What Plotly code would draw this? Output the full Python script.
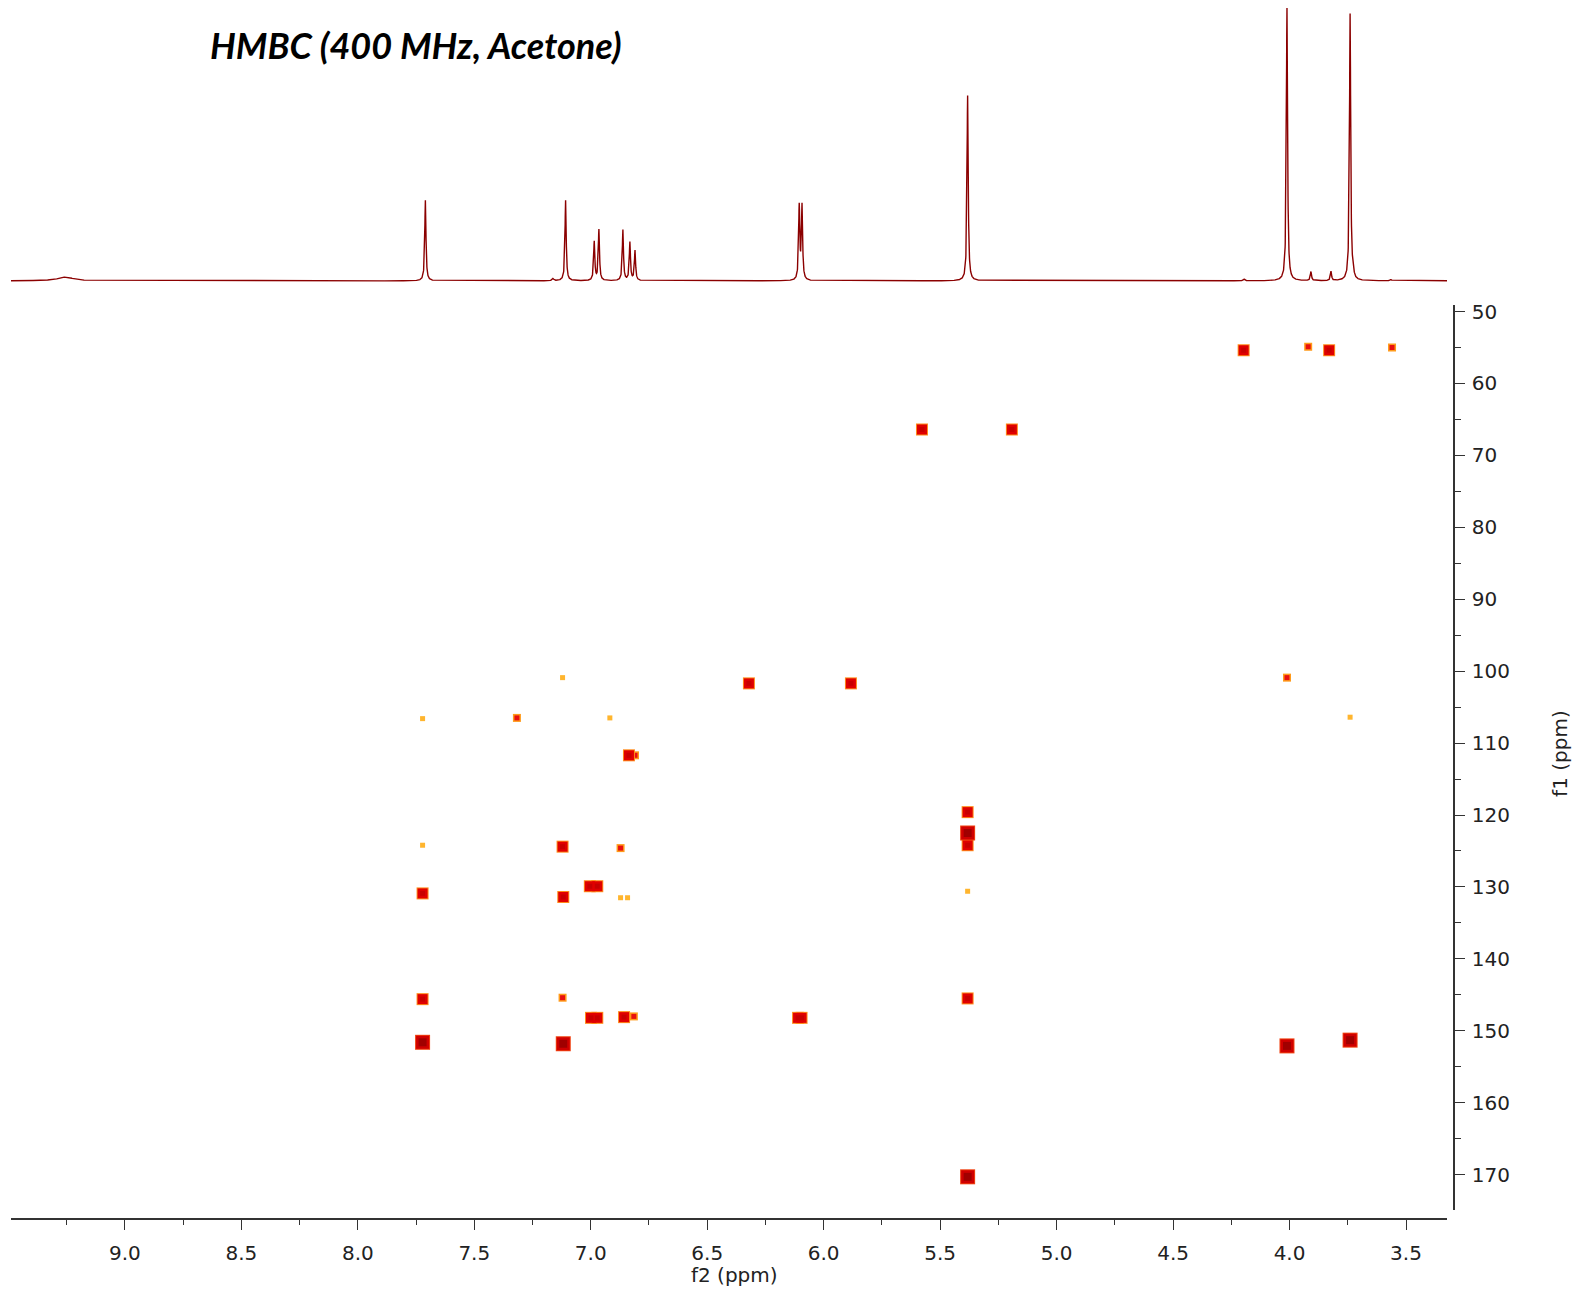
import numpy as np
import plotly.graph_objects as go

# ---------------- 1D proton projection (peak list) ----------------
h1_shift = [9.255, 7.710, 7.162, 7.108, 6.985, 6.965, 6.862, 6.832, 6.810, 6.105, 6.093,
            5.382, 4.195, 4.011, 3.908, 3.822, 3.740, 3.727, 3.565]
h1_height = [1.4, 29.5, 0.8, 29.5, 14.2, 18.6, 18.6, 14.0, 11.0, 27.0, 27.0,
             67.9, 0.6, 100.0, 3.3, 3.4, 97.8, 2.5, 0.5]
h1_hwhm = [0.04, 0.003, 0.004, 0.003, 0.003, 0.003, 0.003, 0.003, 0.003, 0.003, 0.003,
           0.003, 0.004, 0.003, 0.003, 0.003, 0.003, 0.003, 0.004]

# ---------------- HMBC cross peaks: (1H shift, 13C shift, intensity level 1..4) ----------------
hmbc_h = [4.197, 3.920, 3.830, 3.560,
          5.578, 5.192,
          7.121, 6.321, 5.883, 4.011,
          7.722, 7.317, 6.918, 3.740,
          6.836, 6.810,
          5.382, 5.382, 5.382,
          7.722, 7.121, 6.872,
          7.722, 7.118, 7.004, 6.972, 6.872, 6.842, 5.382,
          7.722, 7.121, 5.382,
          6.999, 6.972, 6.857, 6.815, 6.110, 6.095,
          7.722, 7.118, 4.011, 3.740,
          5.382]
hmbc_c = [55.4, 54.9, 55.4, 55.0,
          66.4, 66.4,
          100.9, 101.7, 101.7, 100.9,
          106.6, 106.5, 106.5, 106.4,
          111.7, 111.7,
          119.6, 122.5, 124.2,
          124.2, 124.4, 124.6,
          130.9, 131.4, 129.9, 129.9, 131.5, 131.5, 130.6,
          145.6, 145.4, 145.5,
          148.2, 148.2, 148.1, 148.0, 148.2, 148.2,
          151.6, 151.8, 152.1, 151.3,
          170.3]
hmbc_level = [3, 2, 3, 2,
              3, 3,
              1, 3, 3, 2,
              1, 2, 1, 1,
              3, 2,
              3, 4, 3,
              1, 3, 2,
              3, 3, 3, 3, 1, 1, 1,
              3, 2, 3,
              3, 3, 3, 2, 3, 3,
              4, 4, 4, 4,
              4]

# ---------------- build projection trace ----------------
xgrid = np.arange(3.30, 9.50, 0.0005)
spec = np.zeros_like(xgrid)
for x0, h, g in zip(h1_shift, h1_height, h1_hwhm):
    spec += h * g**2 / ((xgrid - x0)**2 + g**2)

# ---------------- geometry helpers (pixels -> paper) ----------------
W, H = 1574, 1289
ML, MR, MT, MB = 11, 120, 0, 70
PW, PH = W - ML - MR, H - MT - MB
def px(p):
    return (p - ML) / PW
def py(p):
    return (H - MB - p) / PH

fig = go.Figure()

fig.add_trace(go.Scatter(x=xgrid, y=spec, mode="lines",
                         line=dict(color="#8b0000", width=1.4),
                         xaxis="x2", yaxis="y2", hoverinfo="skip", showlegend=False))

# cross peaks drawn in layers: halo, body, core
h_arr = np.array(hmbc_h)
c_arr = np.array(hmbc_c)
lv = np.array(hmbc_level)

layers = [
    # (levels, colour, size)
    ((1,), "#ffb52e", 5),
    ((2,), "#ff9a1a", 8),
    ((2,), "#e81010", 5),
    ((3,), "#ff8a1a", 12),
    ((3,), "#e00000", 10),
    ((3,), "#c80000", 5),
    ((4,), "#f04010", 15),
    ((4,), "#d00000", 13),
    ((4,), "#a00000", 8),
]
for levels, col, size in layers:
    m = np.isin(lv, levels)
    fig.add_trace(go.Scatter(x=h_arr[m], y=c_arr[m], mode="markers",
                             marker=dict(symbol="square", size=size, color=col, line=dict(width=0)),
                             xaxis="x", yaxis="y", hoverinfo="skip", showlegend=False))

tickfont = dict(family="Tahoma, DejaVu Sans, sans-serif", size=20, color="#222222")
axcol = "#333333"
xrange_ppm = [9.489, 3.324]

fig.update_layout(
    width=W, height=H,
    margin=dict(l=ML, r=MR, t=MT, b=MB),
    paper_bgcolor="white", plot_bgcolor="white",
    xaxis=dict(domain=[0, (1447 - ML) / PW], range=xrange_ppm, anchor="free", position=0,
               showline=True, linecolor=axcol, linewidth=1.5, mirror=False,
               ticks="outside", ticklen=10, tickwidth=1.3, tickcolor=axcol,
               tick0=0, dtick=0.5, tickformat=".1f", tickfont=tickfont, ticklabelstandoff=6,
               minor=dict(dtick=0.25, ticks="outside", ticklen=5, tickwidth=1.3, tickcolor=axcol),
               showgrid=False, zeroline=False),
    yaxis=dict(domain=[py(1210), py(301)], range=[174.92, 49.06], anchor="free", position=1,
               side="right", showline=True, linecolor=axcol, linewidth=1.5,
               ticks="outside", ticklen=10, tickwidth=1.3, tickcolor=axcol,
               tick0=0, dtick=10, tickfont=tickfont, ticklabelstandoff=3,
               minor=dict(dtick=5, ticks="outside", ticklen=6, tickwidth=1.3, tickcolor=axcol),
               showgrid=False, zeroline=False),
    xaxis2=dict(domain=[0, (1447 - ML) / PW], range=xrange_ppm, anchor="y2",
                visible=False, showgrid=False, zeroline=False),
    yaxis2=dict(domain=[py(285), 1.0], range=[-2.92, 101.09], anchor="x2",
                visible=False, showgrid=False, zeroline=False),
    annotations=[
        dict(text="<b><i>HMBC (400 MHz, Acetone)</i></b>", xref="paper", yref="paper",
             x=px(208), y=py(40), xanchor="left", yanchor="middle", showarrow=False,
             font=dict(family="Lato, Open Sans, sans-serif", size=36, color="black")),
        dict(text="f2 (ppm)", xref="paper", yref="paper", x=px(734), y=py(1275),
             xanchor="center", yanchor="middle", showarrow=False, font=tickfont),
        dict(text="f1 (ppm)", xref="paper", yref="paper", x=px(1560), y=py(752),
             xanchor="center", yanchor="middle", showarrow=False, textangle=-90, font=tickfont),
    ],
)

fig.write_html("out.html", config={"displayModeBar": False},
               post_script="document.body.style.margin='0';document.body.style.overflow='hidden';")
